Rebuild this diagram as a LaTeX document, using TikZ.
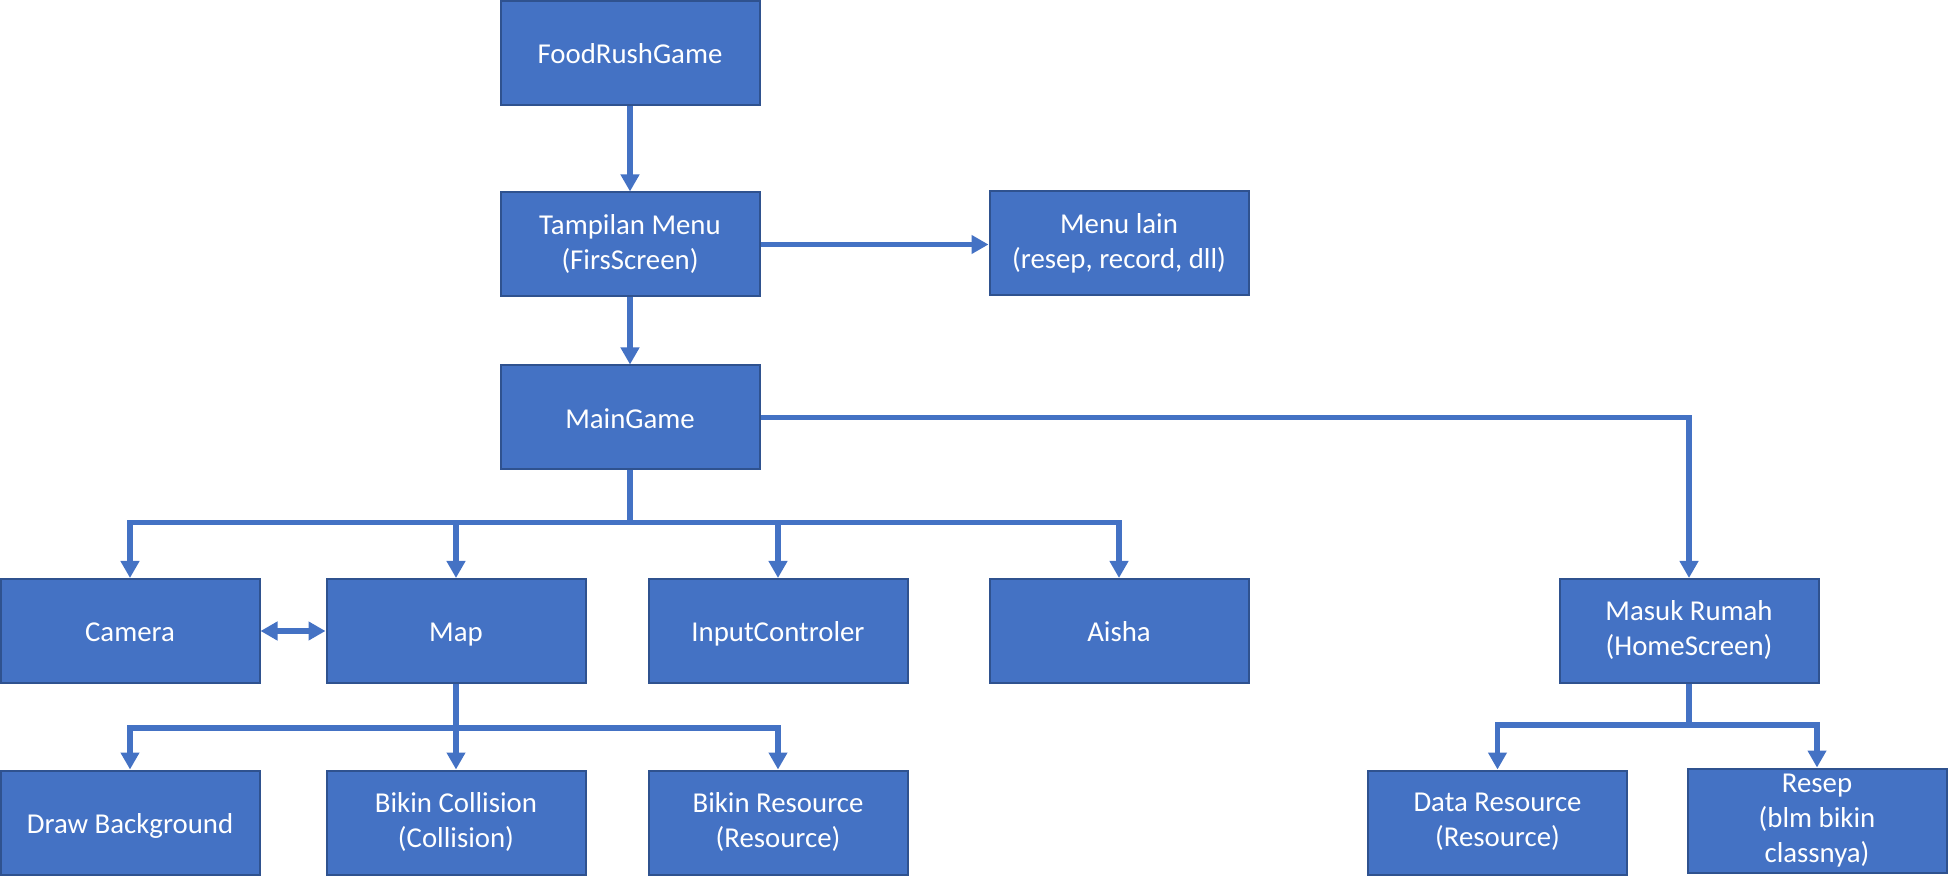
\documentclass[tikz,border=0pt]{standalone}
\usepackage{fontspec}
\setmainfont{Carlito}
\usetikzlibrary{arrows.meta}
\definecolor{boxfill}{HTML}{4472C4}
\definecolor{boxline}{HTML}{2F528F}
\definecolor{conn}{HTML}{4472C4}
\newcommand\boxstrut{\rule[-2.7pt]{0pt}{16.2pt}}
\begin{document}
\begin{tikzpicture}[x=0.5pt,y=-0.5pt,
  box/.style={draw=boxline, line width=1pt, fill=boxfill, text=white,
    minimum width=129.5pt, minimum height=52pt, inner sep=2pt, align=center,
    font=\fontsize{14.4}{17.5}\selectfont,
    execute at begin node=\boxstrut, execute at end node=\boxstrut},
  arr/.style={draw=conn, line width=2.6pt, -{Triangle[width=9pt,length=8.5pt]}},
  darr/.style={draw=conn, line width=2.6pt, {Triangle[width=9pt,length=8.5pt]}-{Triangle[width=9pt,length=8.5pt]}},
  ln/.style={draw=conn, line width=2.6pt}]
\useasboundingbox (0,0) rectangle (1948,892);
\node[box] (food) at (630,53) {FoodRushGame};
\node[box] (tamp) at (630,244.5) {Tampilan Menu\\(FirsScreen)};
\node[box] (menu) at (1119,243.5) {Menu lain\\(resep, record, dll)};
\node[box] (main) at (630,417.5) {MainGame};
\node[box] (camera) at (130,631) {Camera};
\node[box] (map) at (456,631) {Map};
\node[box] (input) at (778,631) {InputControler};
\node[box] (aisha) at (1119,631) {Aisha};
\node[box] (masuk) at (1689,631) {Masuk Rumah\\(HomeScreen)};
\node[box] (drawbg) at (130,822.5) {Draw Background};
\node[box] (coll) at (456,822.5) {Bikin Collision\\(Collision)};
\node[box] (res) at (778,822.5) {Bikin Resource\\(Resource)};
\node[box] (data) at (1497.5,822.5) {Data Resource\\(Resource)};
\node[box] (resep) at (1817,820.5) {Resep\\(blm bikin\\classnya)};

\draw[arr] (food.south) -- (tamp.north);
\draw[arr] (tamp.east) -- (tamp.east -| menu.west);
\draw[arr] (tamp.south) -- (main.north);
\coordinate (mbus) at ([yshift=-26pt]main.south);
\draw[ln] (main.south) -- (mbus);
\draw[arr] (mbus) -| (camera.north);
\draw[arr] (mbus) -| (map.north);
\draw[arr] (mbus) -| (input.north);
\draw[arr] (mbus) -| (aisha.north);
\draw[arr] (main.east) -| (masuk.north);
\draw[darr] (camera.east) -- (map.west);
\coordinate (pbus) at ([yshift=-22pt]map.south);
\draw[ln] (map.south) -- (pbus);
\draw[arr] (pbus) -| (drawbg.north);
\draw[arr] (pbus) -| (coll.north);
\draw[arr] (pbus) -| (res.north);
\coordinate (hbus) at ([yshift=-20.5pt]masuk.south);
\draw[ln] (masuk.south) -- (hbus);
\draw[arr] (hbus) -| (data.north);
\draw[arr] (hbus) -| (resep.north);
\end{tikzpicture}
\end{document}
